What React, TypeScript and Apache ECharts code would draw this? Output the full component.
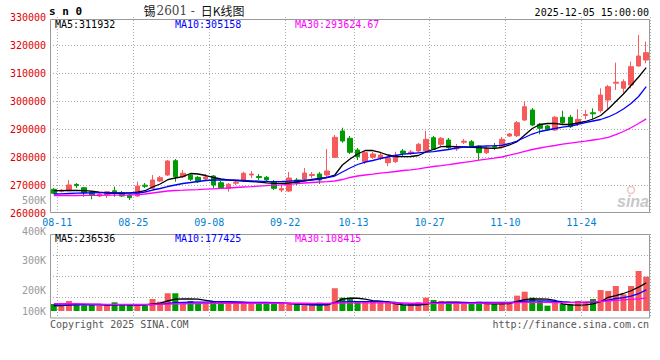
import React, { useEffect, useRef } from 'react';
import * as echarts from 'echarts';

const dates = [
  '08-11','08-12','08-13','08-14','08-15','08-18','08-19','08-20','08-21','08-22',
  '08-25','08-26','08-27','08-28','08-29','09-01','09-02','09-03','09-04','09-05',
  '09-08','09-09','09-10','09-11','09-12','09-15','09-16','09-17','09-18','09-19',
  '09-22','09-23','09-24','09-25','09-26','09-29','09-30','10-09','10-10','10-13',
  '10-14','10-15','10-16','10-17','10-20','10-21','10-22','10-23','10-24','10-27',
  '10-28','10-29','10-30','10-31','11-03','11-04','11-05','11-06','11-07','11-10',
  '11-11','11-12','11-13','11-14','11-17','11-18','11-19','11-20','11-21','11-24',
  '11-25','11-26','11-27','11-28','12-01','12-02','12-03','12-04','12-05'
];
const tickDates = ['08-11','08-25','09-08','09-22','10-13','10-27','11-10','11-24'];

const opens = [
  268460,267790,267960,270180,269040,267610,266070,266430,267930,267250,
  266430,266070,269930,268820,271430,273570,278680,272960,273570,272750,
  272140,273210,270820,268820,270640,271540,273570,273040,272750,271180,
  268210,267860,271790,272140,273390,273930,273570,279890,289290,286680,
  282500,278320,279890,279540,277960,278320,282140,281250,282140,282140,
  286890,284540,286070,282860,285290,285460,283930,281540,283860,283680,
  287500,287610,293210,296790,291680,291070,289640,294180,294180,292040,
  294820,295790,296540,300360,306360,304540,305710,312500,314640
];
const closes = [
  267040,268140,270000,269750,267250,266430,266790,267610,267570,266070,
  265460,269640,269570,271790,272610,278570,272960,274180,272040,271180,
  272860,270000,269040,270250,271000,274180,273930,272680,271790,268820,
  268680,272500,270710,274290,273750,271790,275000,287040,285710,281680,
  280110,281540,281070,280710,279540,280710,281320,281790,284540,286320,
  282750,286680,283320,283680,285640,283930,281540,283110,283500,286320,
  288210,292250,297960,291430,290250,289890,294180,292250,290820,293460,
  295180,295430,302140,305110,306710,306890,312250,316070,317250
];
const lows = [
  266790,267320,267860,268930,265820,264890,265710,265360,265820,265710,
  264640,265710,268930,268570,271070,273210,271180,272500,271430,270710,
  271430,268820,268570,267610,270000,271070,272500,271790,271430,268210,
  267500,267500,270000,271430,272500,270360,272860,279640,285110,281070,
  278930,277500,279290,278930,276790,277860,280360,280710,281790,281790,
  282500,283930,282860,282140,284640,283210,278930,281070,282500,283210,
  287140,287140,292860,291070,288110,289290,289290,291790,290360,291070,
  293460,293460,295820,296790,303930,302960,304540,312250,313460
];
const highs = [
  268930,268570,271790,270710,269290,267860,267140,267860,269390,267860,
  266790,271180,270710,273570,273210,278930,279290,275360,273930,273210,
  273930,273570,271430,270710,271790,274750,275000,273930,273210,271790,
  270000,274640,272500,276070,274640,274640,282860,287860,290460,287500,
  283210,282500,281790,281430,280360,281890,282860,282500,285000,289390,
  287500,287140,286790,284640,286430,286070,284290,283570,285000,287140,
  288570,292860,299750,297500,292140,291430,294640,296540,295000,297040,
  296790,297390,304540,305710,313680,307750,314040,323570,321180
];

const ma5 = [
  267960,267960,268040,268040,267960,267790,267430,267140,267040,267040,
  267210,267430,267960,269290,270360,271890,272500,272960,274110,273930,
  273390,272680,272140,271790,271610,271430,271250,271070,270790,270610,
  270540,270710,271070,271430,271960,272320,272750,273570,277140,279290,
  281070,282320,282320,281610,280710,280180,280110,280180,280540,281790,
  282680,283680,283750,283680,283570,283460,283320,283210,283110,283390,
  284290,285460,287860,290180,291610,291960,292040,291610,291610,292140,
  292680,293570,294820,297140,299820,302500,305540,308570,311932
];
const ma10 = [
  266790,266860,266960,267070,267140,267210,267250,267250,267250,267210,
  267140,267140,267500,268210,268750,269460,270000,270540,270890,271250,
  271610,271790,271790,271790,271710,271610,271500,271360,271210,271180,
  271250,271360,271540,271710,271790,272140,272680,273210,274640,276070,
  277320,278210,278750,279460,280000,280540,281000,281250,281500,281710,
  281890,282320,282680,283210,283570,283680,283820,283930,284040,284180,
  284820,285710,286960,288210,289110,289640,290180,290640,291000,291610,
  292320,292860,293390,294290,295540,297140,299110,301610,305158
];
const ma30 = [
  266250,266250,266250,266250,266320,266320,266320,266360,266360,266390,
  266430,266540,266790,267140,267500,267860,268040,268140,268250,268360,
  268500,268640,268790,268930,269110,269290,269430,269610,269790,269930,
  270070,270250,270500,270710,270890,271070,271210,271430,271960,272680,
  273210,273570,273860,274210,274540,274820,275180,275430,275790,276210,
  276610,276930,277290,277680,278110,278460,278860,279210,279570,280000,
  280640,281320,282040,282680,283210,283680,284110,284570,284930,285290,
  285640,286070,286500,287040,287960,289110,290460,291960,293624.67
];

const volumes = [
  59000,42000,84000,52000,48000,53000,47000,51000,73000,49000,
  52000,54000,46000,101000,78000,149000,149000,70000,84000,70000,
  70000,84000,70000,61000,70000,76000,67000,67000,76000,64000,
  61000,70000,59000,64000,64000,70000,59000,191000,112000,112000,
  84000,78000,78000,73000,73000,61000,50000,64000,73000,112000,
  92000,84000,78000,78000,73000,73000,78000,73000,64000,73000,
  64000,129000,162000,112000,84000,45000,73000,59000,59000,84000,
  78000,101000,176000,168000,210000,140000,210000,336000,288000
];
const volMa5 = [
  45000,45000,50000,55000,56000,56000,55000,50000,54000,54000,
  54000,52000,52000,60000,66000,84000,100000,101000,101000,100000,
  90000,80000,75000,74000,72000,72000,70000,69000,70000,68000,
  66000,64000,60000,55000,52000,52000,52000,70000,100000,107000,
  107000,100000,88000,82000,76000,60000,52000,50000,50000,55000,
  68000,73000,75000,75000,73000,70000,68000,62000,60000,60000,
  62000,80000,95000,101000,101000,100000,90000,60000,52000,50000,
  52000,60000,78000,115000,130000,147000,170000,200000,236536
];
const volMa10 = [
  53000,52000,52000,51000,52000,53000,52000,51000,52000,52000,
  52000,52000,52000,54000,58000,63000,70000,73000,74000,74000,
  75000,77000,78000,78000,76000,74000,73000,73000,72000,70000,
  68000,62000,58000,55000,54000,54000,55000,70000,76000,78000,
  79000,79000,79000,78000,77000,73000,60000,57000,57000,62000,
  68000,70000,70000,71000,71000,71000,72000,72000,72000,72000,
  72000,76000,82000,85000,85000,84000,82000,78000,75000,73000,
  73000,74000,80000,92000,105000,112000,125000,145000,177425
];
const volMa30 = [
  61000,61000,61000,61000,60000,58000,57000,56000,56000,56000,
  56000,56000,56000,56000,57000,58000,60000,61000,62000,63000,
  64000,64000,65000,65000,65000,65000,65000,65000,65000,65000,
  65000,65000,65000,65000,64000,64000,64000,66000,67000,68000,
  68000,68000,68000,68000,68000,68000,67000,66000,65000,64000,
  64000,64000,64000,64000,64000,64000,65000,66000,67000,68000,
  69000,70000,72000,73000,73000,72000,71000,71000,71000,72000,
  74000,77000,80000,84000,89000,93000,97000,102000,108415
];

const volLabels = ['500K', '400K', '300K', '200K', '100K'];
const volLabelY = [200, 231, 260, 290, 311];

const RED = '#f65a5a';
const GREEN = '#009b00';
const GRID_C = '#aaaaaa';
const MONO = '"DejaVu Sans Mono", "Liberation Mono", monospace';
const f10 = `10px ${MONO}`;

function txt(text: string, x: number, y: number, fill: string, font: string, align = 'left') {
  return {
    type: 'text', x, y, silent: true, z: 120,
    style: { text, fill, font, textAlign: align, align, textVerticalAlign: 'middle', verticalAlign: 'middle' },
  };
}

export default function App() {
  const ref = useRef<HTMLDivElement>(null);
  useEffect(() => {
    const chart = echarts.init(ref.current!, null, { renderer: 'svg' });
    const candle = dates.map((_, i) => [opens[i], closes[i], lows[i], highs[i]]);
    const vol = volumes.map((v, i) => ({ value: v, itemStyle: { color: closes[i] >= opens[i] ? RED : GREEN } }));
    const splitIv = (idx: number) => idx > 0 && tickDates.includes(dates[idx - 1]);
    const dotted = { color: GRID_C, type: [1, 2] as any, width: 1 };

    const title = {
      type: 'text', x: 194, y: 10.5, silent: true, z: 120,
      style: {
        text: '{c|锡}{n|2601 - }{c|日K线图}',
        textAlign: 'center', align: 'center', textVerticalAlign: 'middle', verticalAlign: 'middle',
        rich: {
          c: { fontFamily: '"Noto Sans CJK SC"', fontSize: 12, fill: '#111', color: '#111' },
          n: { fontFamily: '"DejaVu Serif", "Liberation Serif", serif', fontSize: 12, fill: '#444', color: '#444', padding: [0, 2, 0, 1] },
        },
      },
    };

    const graphics: any[] = [
      { type: 'rect', silent: true, z: 110, shape: { x: 50.5, y: 19.5, width: 599, height: 193 }, style: { fill: 'none', stroke: '#999', lineWidth: 1 } },
      { type: 'rect', silent: true, z: 110, shape: { x: 50.5, y: 234.5, width: 599, height: 83.5 }, style: { fill: 'none', stroke: '#999', lineWidth: 1 } },
      txt('s n 0', 49, 11, '#000', `bold 11px ${MONO}`),
      title,
      txt('2025-12-05 15:00:00', 649, 12, '#000', f10, 'right'),
      txt('MA5:' + ma5[ma5.length - 1], 55, 24.5, '#000', f10),
      txt('MA10:' + ma10[ma10.length - 1], 175, 24.5, '#0000ff', f10),
      txt('MA30:' + ma30[ma30.length - 1].toFixed(2), 295, 24.5, '#ff00ff', f10),
      txt('MA5:' + volMa5[volMa5.length - 1], 55, 238, '#000', f10),
      txt('MA10:' + volMa10[volMa10.length - 1], 175, 238, '#0000ff', f10),
      txt('MA30:' + volMa30[volMa30.length - 1], 295, 238, '#ff00ff', f10),
      txt('Copyright 2025 SINA.COM', 50, 324, '#555', f10),
      txt('http://finance.sina.com.cn', 649, 324, '#555', f10, 'right'),
      txt('sina', 649, 201, '#c8c8c8', 'italic bold 16px "Liberation Sans"', 'right'),
      { type: 'circle', silent: true, z: 105, shape: { cx: 631, cy: 190, r: 3.5 }, style: { fill: 'none', stroke: '#f2c4c4', lineWidth: 1.5 } },
      ...volLabels.map((t, k) => txt(t, 46, volLabelY[k], '#999', f10, 'right')),
    ];

    const option: any = {
      animation: false,
      backgroundColor: '#fff',
      grid: [
        { left: 50, right: 10, top: 17, height: 196 },
        { left: 50, right: 10, top: 234, height: 84 },
      ],
      xAxis: [
        {
          type: 'category', gridIndex: 0, data: dates, boundaryGap: true,
          axisLine: { show: false }, axisTick: { show: false },
          axisLabel: { interval: (i: number, v: string) => tickDates.includes(v), color: '#0080d0', fontFamily: MONO, fontSize: 10, margin: 4, padding: [0, 0, 0, 7] },
          splitLine: { show: true, interval: splitIv, lineStyle: dotted },
        },
        {
          type: 'category', gridIndex: 1, data: dates, boundaryGap: true,
          axisLine: { show: false }, axisTick: { show: false }, axisLabel: { show: false },
          splitLine: { show: true, interval: splitIv, lineStyle: dotted },
        },
      ],
      yAxis: [
        {
          type: 'value', gridIndex: 0, min: 260000, max: 330000, interval: 10000,
          axisLine: { show: false }, axisTick: { show: false },
          axisLabel: { color: '#e00000', fontFamily: MONO, fontSize: 10, margin: 4, formatter: (v: number) => String(v) },
          splitLine: { show: true, showMinLine: false, showMaxLine: false, lineStyle: dotted },
        },
        {
          type: 'value', gridIndex: 1, min: -58800, max: 646800,
          axisLine: { show: false }, axisTick: { show: false }, axisLabel: { show: false }, splitLine: { show: false },
        },
        {
          type: 'value', gridIndex: 1, min: 0, max: 84, interval: 21,
          axisLine: { show: false }, axisTick: { show: false }, axisLabel: { show: false },
          splitLine: { show: true, showMinLine: false, showMaxLine: false, lineStyle: dotted },
        },
      ],
      series: [
        {
          type: 'candlestick', xAxisIndex: 0, yAxisIndex: 0, data: candle, barWidth: 5,
          itemStyle: { color: RED, color0: GREEN, borderColor: RED, borderColor0: GREEN, borderWidth: 1 },
        },
        { type: 'line', xAxisIndex: 0, yAxisIndex: 0, data: ma5, symbol: 'none', lineStyle: { color: '#000', width: 1.3 } },
        { type: 'line', xAxisIndex: 0, yAxisIndex: 0, data: ma10, symbol: 'none', lineStyle: { color: '#0000ff', width: 1.3 } },
        { type: 'line', xAxisIndex: 0, yAxisIndex: 0, data: ma30, symbol: 'none', lineStyle: { color: '#ff00ff', width: 1.3 } },
        { type: 'bar', xAxisIndex: 1, yAxisIndex: 1, data: vol, barWidth: 6 },
        { type: 'line', xAxisIndex: 1, yAxisIndex: 1, data: volMa5, symbol: 'none', lineStyle: { color: '#000', width: 1.3 } },
        { type: 'line', xAxisIndex: 1, yAxisIndex: 1, data: volMa10, symbol: 'none', lineStyle: { color: '#0000ff', width: 1.3 } },
        { type: 'line', xAxisIndex: 1, yAxisIndex: 1, data: volMa30, symbol: 'none', lineStyle: { color: '#ff00ff', width: 1.3 } },
      ],
      graphic: graphics,
    };
    chart.setOption(option);
    return () => chart.dispose();
  }, []);
  return <div ref={ref} style={{ position: 'fixed', left: 0, top: 0, width: 660, height: 360, background: '#fff' }} />;
}
